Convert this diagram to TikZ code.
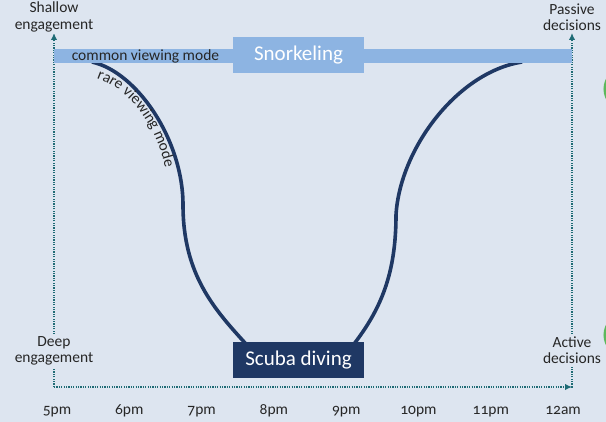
\documentclass[tikz,border=0pt]{standalone}
\usepackage{fontspec}
\setmainfont{Carlito}[Numbers=OldStyle]
\usetikzlibrary{arrows.meta,decorations.text}
\definecolor{bgc}{HTML}{DDE5F0}
\definecolor{axisc}{HTML}{1E6B75}
\definecolor{bandc}{HTML}{8DB4E2}
\definecolor{navyc}{HTML}{1F3864}
\definecolor{labelc}{HTML}{262626}
\definecolor{greenc}{HTML}{5DB85C}
\newcommand\labfont{\fontsize{15.5}{16.5}\selectfont}
\newcommand\boxfont{\fontsize{21}{24}\selectfont}
\tikzset{
  axisline/.style={axisc, line width=1.8pt, dash pattern=on 1.2pt off 1.2pt},
  axisarrow/.style={axisline, -{Latex[length=7pt,width=6.5pt]}},
  axislabel/.style={fill=bgc, text=labelc, font=\labfont, align=center, inner sep=2pt},
  timelabel/.style={text=labelc, font=\labfont, anchor=base, inner sep=0pt},
  bandbar/.style={fill=bandc, minimum width=518pt, minimum height=14pt, inner sep=0pt},
  snorkbox/.style={fill=bandc, text=white, font=\boxfont, minimum width=131pt, minimum height=36pt, inner sep=0pt},
  scubabox/.style={fill=navyc, text=white, font=\boxfont, minimum width=131pt, minimum height=36pt, inner sep=0pt},
  modelabel/.style={text=labelc, font=\labfont, inner sep=0pt},
  curveline/.style={navyc, line width=3.6pt},
  greenmark/.style={greenc, line width=3pt}
}
\begin{document}
\begin{tikzpicture}[x=1pt,y=-1pt]
\useasboundingbox (0,0) rectangle (606,422);
\fill[bgc] (0,0) rectangle (606,422);
% green slivers at right edge
\draw[greenmark] (626,89) circle (21);
\draw[greenmark] (626,335) circle (21);
% axes
\coordinate (O) at (54,387);
\coordinate (TL) at (54,33);
\coordinate (BR) at (572,387);
\coordinate (TR) at (572,33);
\draw[axisarrow] (O) -- (TL);
\draw[axisarrow] (O) -- (BR);
\draw[axisline] (572,388) -- (BR);
\draw[axisarrow] (BR) -- (TR);
% curve
\coordinate (L0) at (92,62);
\coordinate (L1) at (183,205);
\coordinate (L2) at (246,344);
\coordinate (R2) at (354,344);
\coordinate (R1) at (396,215);
\coordinate (R0) at (522,62);
\draw[curveline] (L0) .. controls (137,72) and (183,140) .. (L1)
  .. controls (183,275) and (215,310) .. (L2);
\draw[curveline] (R2) .. controls (380,310) and (396,275) .. (R1)
  .. controls (400,148) and (458,72) .. (R0);
\coordinate (T0) at (89,76);
\coordinate (T1) at (169,205);
\path[decorate, decoration={text along path,
   text={|\labfont\color{labelc}|rare viewing mode},
   text align={left indent=8pt}}]
  (T0) .. controls (134,86) and (169,140) .. (T1);
% band and boxes
\node[bandbar] (band) at (313,56) {};
\node[modelabel] (common) at (145.5,56) {common viewing mode};
\node[snorkbox] (snork) at (298.5,55) {Snorkeling};
\node[scubabox] (scuba) at (298.5,360) {Scuba diving};
% axis labels
\node[axislabel] (shallow) at (54,17) {Shallow\\engagement};
\node[axislabel] (passive) at (572,17) {Passive\\decisions};
\node[axislabel] (deep) at (54,351) {Deep\\engagement};
\node[axislabel] (active) at (572,350) {Active\\decisions};
% time labels
\foreach \t [count=\i from 0] in {5pm,6pm,7pm,8pm,9pm,10pm,11pm,12am}{
  \node[timelabel] (t\i) at (57+72.3*\i,415) {\t};
}
\end{tikzpicture}
\end{document}
